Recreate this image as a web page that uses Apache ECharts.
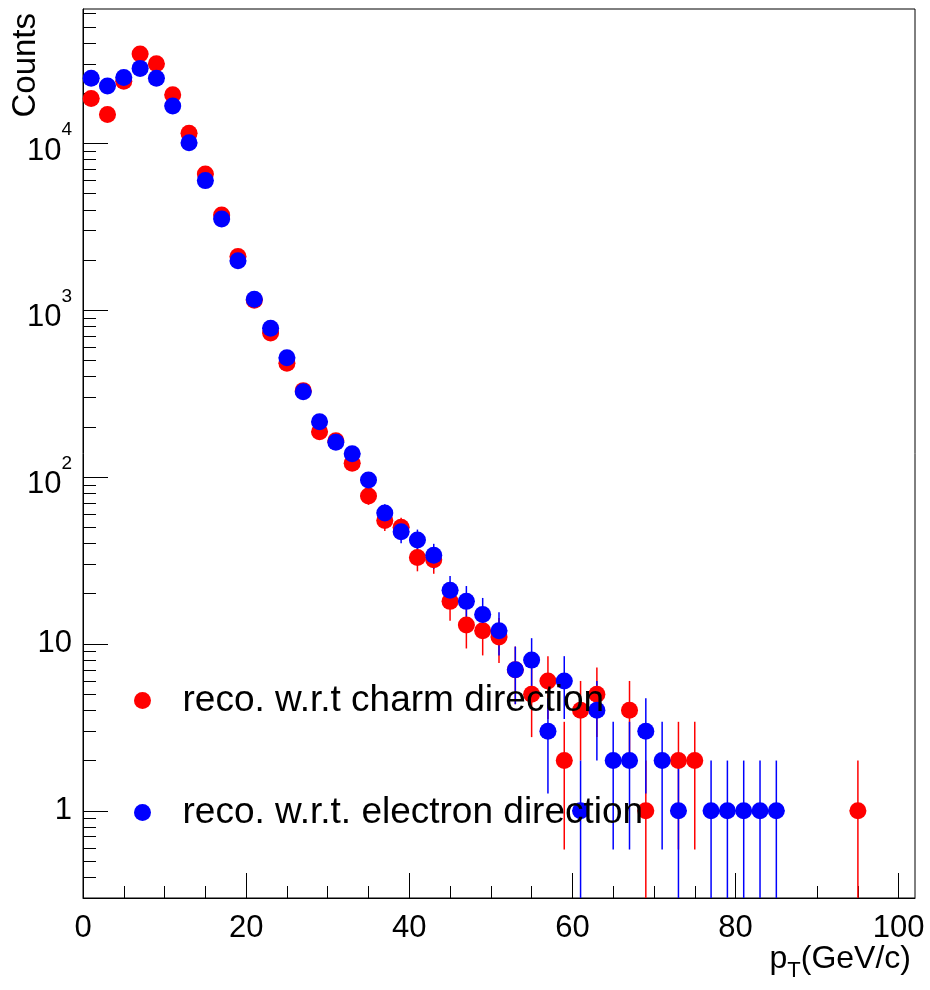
<!DOCTYPE html>
<html>
<head>
<meta charset="utf-8">
<script src="https://cdn.jsdelivr.net/npm/echarts@6/dist/echarts.min.js"></script>
<style>
html,body{margin:0;padding:0;background:#fff;}
#chart{width:930px;height:990px;}
</style>
</head>
<body>
<div id="chart"></div>
<script>
// ---- data ----
var charmName = 'reco. w.r.t charm direction';
var electronName = 'reco. w.r.t. electron direction';

var charmX = [1,3,5,7,9,11,13,15,17,19,21,23,25,27,29,31,33,35,37,39,41,43,45,47,49,51,53,55,57,59,61,63,67,69,73,75,95];
var charmY = [18600,14900,23600,34400,30100,19600,11500,6560,3730,2100,1150,730,481,330,187,165,121,77,55,50,33,32,18,13,12,11,7,5,6,2,4,5,4,1,2,2,1];

var electronX = [1,3,5,7,9,11,13,15,17,19,21,23,25,27,29,31,33,35,37,39,41,43,45,47,49,51,53,55,57,59,61,63,65,67,69,71,73,77,79,81,83,85];
var electronY = [24600,22100,24900,28200,24600,16800,10100,5990,3530,1980,1165,780,520,325,215,162,138,96,61,47,42,34,21,18,15,12,7,8,3,6,1,4,2,2,3,2,1,1,1,1,1,1];

var xMajorTicks = [0,20,40,60,80,100];
var xMinorTicks = [0,5,10,15,20,25,30,35,40,45,50,55,60,65,70,75,80,85,90,95,100];
var yMajorTicks = [1,10,100,1000,10000];
var yMinorTicks = [0.3,0.4,0.5,0.6,0.7,0.8,0.9,
                   2,3,4,5,6,7,8,9,
                   20,30,40,50,60,70,80,90,
                   200,300,400,500,600,700,800,900,
                   2000,3000,4000,5000,6000,7000,8000,9000,
                   20000,30000,40000,50000,60000];

var xMin = 0, xMax = 102, yMin = 0.3, yMax = 64000;
var binHalfWidth = 1;

var FONT = '"Liberation Sans", Arial, Helvetica, sans-serif';

function pairs(xs, ys) {
  return xs.map(function (x, i) { return [x, ys[i]]; });
}
function errData(xs, ys) {
  return xs.map(function (x, i) {
    var v = ys[i], e = Math.sqrt(v);
    return [x, v, Math.max(v - e, yMin), v + e];
  });
}
function errRender(color) {
  return function (params, api) {
    var x = api.value(0), y = api.value(1), lo = api.value(2), hi = api.value(3);
    var pLo = api.coord([x, lo]);
    var pHi = api.coord([x, hi]);
    var pL = api.coord([x - binHalfWidth, y]);
    var pR = api.coord([x + binHalfWidth, y]);
    var st = { stroke: color, lineWidth: 1.5 };
    return {
      type: 'group',
      children: [
        { type: 'line', shape: { x1: pLo[0], y1: pLo[1], x2: pHi[0], y2: pHi[1] }, style: st },
        { type: 'line', shape: { x1: pL[0], y1: pL[1], x2: pR[0], y2: pR[1] }, style: st }
      ]
    };
  };
}

function yLabel(v) {
  var e = Math.round(Math.log10(v));
  if (e === 0) return '{p|1}';
  if (e === 1) return '{p|10}';
  return '{h| }{b|10}{s|' + e + '}';
}

var chart = echarts.init(document.getElementById('chart'), null, { renderer: 'canvas' });

var option = {
  animation: false,
  backgroundColor: '#ffffff',
  grid: {
    left: 83, top: 9, right: 15, bottom: 92,
    show: true, borderColor: '#000', borderWidth: 1, backgroundColor: 'transparent'
  },
  legend: {
    orient: 'vertical',
    left: 129,
    top: 675.5,
    itemWidth: 70,
    itemHeight: 17,
    itemGap: 72,
    icon: 'circle',
    selectedMode: false,
    textStyle: { fontSize: 37, color: '#000', fontFamily: FONT, lineHeight: 40 },
    data: [charmName, electronName]
  },
  xAxis: [
    {
      type: 'value', min: xMin, max: xMax, position: 'bottom',
      name: '{p|p}{s|T}{p|(GeV/c)}',
      nameLocation: 'end',
      nameGap: -4,
      nameMoveOverlap: false,
      nameTextStyle: {
        align: 'right', verticalAlign: 'top', padding: [39, 0, 0, 0],
        rich: {
          p: { fontSize: 32, lineHeight: 45, fontFamily: FONT, color: '#000' },
          s: { fontSize: 22, lineHeight: 22, verticalAlign: 'bottom', fontFamily: FONT, color: '#000' }
        }
      },
      axisLine: { show: true, onZero: false, lineStyle: { color: '#000', width: 1 } },
      axisTick: { show: true, inside: true, length: 25, customValues: xMajorTicks, lineStyle: { color: '#000', width: 1 } },
      axisLabel: { show: true, customValues: xMajorTicks, fontSize: 31, color: '#000', fontFamily: FONT, margin: 15 },
      splitLine: { show: false },
      minorTick: { show: false }
    },
    {
      type: 'value', min: xMin, max: xMax, position: 'bottom',
      axisLine: { show: false },
      axisTick: { show: true, inside: true, length: 12, customValues: xMinorTicks, lineStyle: { color: '#000', width: 1 } },
      axisLabel: { show: false },
      splitLine: { show: false }
    }
  ],
  yAxis: [
    {
      type: 'log', logBase: 10, min: yMin, max: yMax, position: 'left',
      name: 'Counts',
      nameLocation: 'end',
      nameRotate: 90,
      nameGap: -4,
      nameMoveOverlap: false,
      nameTextStyle: {
        fontSize: 33, lineHeight: 33, fontFamily: FONT, color: '#000',
        align: 'right', verticalAlign: 'bottom', padding: [0, 0, 41, 0]
      },
      axisLine: { show: true, onZero: false, lineStyle: { color: '#000', width: 1 } },
      axisTick: { show: true, inside: true, length: 25, customValues: yMajorTicks, lineStyle: { color: '#000', width: 1 } },
      axisLabel: {
        show: true, customValues: yMajorTicks, margin: 11, align: 'right',
        formatter: yLabel,
        rich: {
          p: { fontSize: 31, lineHeight: 34, fontFamily: FONT, color: '#000' },
          h: { fontSize: 1, lineHeight: 46, fontFamily: FONT, color: '#000' },
          b: { fontSize: 31, lineHeight: 34, verticalAlign: 'bottom', fontFamily: FONT, color: '#000' },
          s: { fontSize: 19, lineHeight: 36, verticalAlign: 'top', fontFamily: FONT, color: '#000' }
        }
      },
      splitLine: { show: false },
      minorTick: { show: false }
    },
    {
      type: 'log', logBase: 10, min: yMin, max: yMax, position: 'left',
      axisLine: { show: false },
      axisTick: { show: true, inside: true, length: 13, customValues: yMinorTicks, lineStyle: { color: '#000', width: 1 } },
      axisLabel: { show: false },
      splitLine: { show: false }
    }
  ],
  series: [
    {
      name: charmName + ' errors', type: 'custom', xAxisIndex: 0, yAxisIndex: 0,
      data: errData(charmX, charmY), encode: { x: 0, y: 1 },
      renderItem: errRender('#ff0000'), clip: true, silent: true, z: 2
    },
    {
      name: charmName, type: 'scatter', xAxisIndex: 0, yAxisIndex: 0,
      data: pairs(charmX, charmY), symbol: 'circle', symbolSize: 17,
      itemStyle: { color: '#ff0000', opacity: 1 }, clip: true, z: 2
    },
    {
      name: electronName + ' errors', type: 'custom', xAxisIndex: 0, yAxisIndex: 0,
      data: errData(electronX, electronY), encode: { x: 0, y: 1 },
      renderItem: errRender('#0000ff'), clip: true, silent: true, z: 2
    },
    {
      name: electronName, type: 'scatter', xAxisIndex: 0, yAxisIndex: 0,
      data: pairs(electronX, electronY), symbol: 'circle', symbolSize: 17,
      itemStyle: { color: '#0000ff', opacity: 1 }, clip: true, z: 2
    }
  ]
};
chart.setOption(option);
</script>
</body>
</html>
